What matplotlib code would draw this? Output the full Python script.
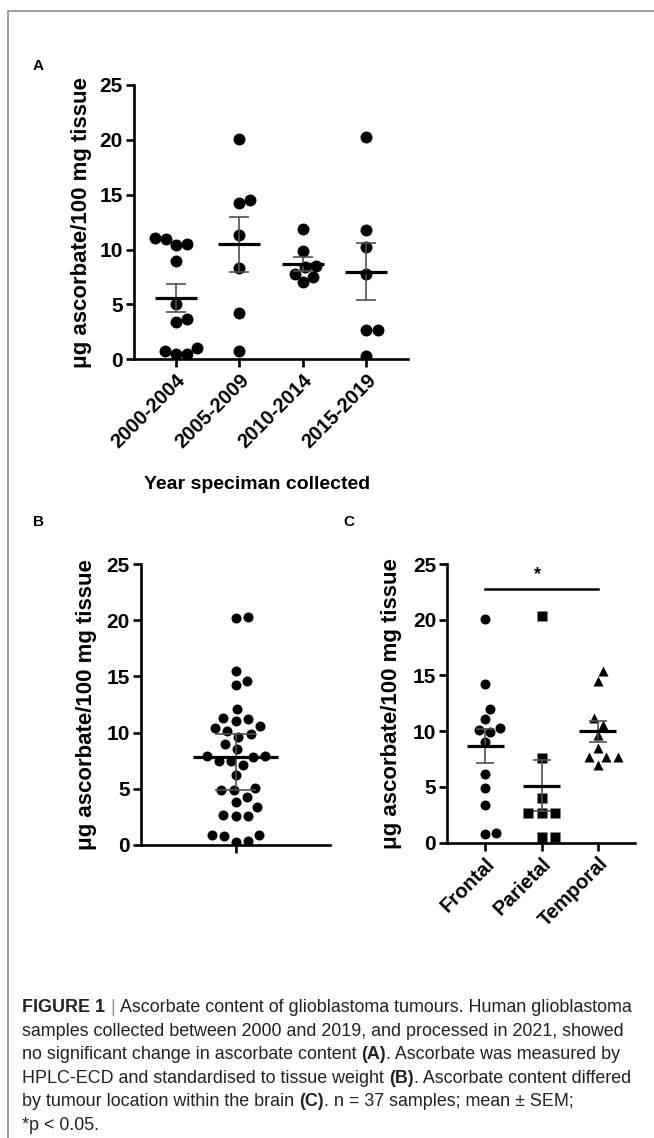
import numpy as np
import matplotlib
matplotlib.use("Agg")
from matplotlib import pyplot as plt
from matplotlib.lines import Line2D

plt.rcParams['font.family'] = ['Liberation Sans', 'DejaVu Sans']

# ---- panel A: ascorbate by year of collection ----
a_groups = ["2000-2004", "2005-2009", "2010-2014", "2015-2019"]
a_2000 = [10.5, 11.0, 10.4, 11.1, 9.0, 5.0, 3.4, 3.7, 0.5, 1.0, 0.5, 0.8]
a_2005 = [20.1, 14.2, 14.5, 11.3, 8.3, 4.2, 0.8]
a_2010 = [11.9, 9.9, 8.4, 8.5, 7.0, 7.5, 7.8]
a_2015 = [20.3, 11.8, 10.2, 7.8, 2.7, 2.7, 0.3]

# ---- panel B: all samples ----
b_all = [20.2, 20.3, 15.5, 14.2, 14.6, 12.1, 11.0, 10.6, 11.2, 11.3,
         10.4, 10.1, 9.6, 9.9, 9.0, 8.5, 7.5, 7.9, 7.9, 7.8, 7.5, 7.1,
         6.2, 5.1, 4.9, 4.9, 4.3, 3.8, 3.4, 2.7, 2.6, 2.6, 0.9, 0.8,
         0.9, 0.4, 0.3]
b_center = 7.8
b_err = [4.9, 9.9]

# ---- panel C: by tumour location ----
c_groups = ["Frontal", "Parietal", "Temporal"]
c_frontal = [20.1, 14.2, 12.0, 11.1, 10.1, 10.3, 9.9, 9.0, 6.2, 4.9, 3.4, 0.8, 0.9]
c_parietal = [20.3, 7.6, 4.0, 2.7, 2.7, 2.7, 0.5, 0.5]
c_temporal = [15.4, 14.5, 11.2, 10.6, 9.7, 8.5, 7.7, 7.0, 7.7, 7.7]
c_sig = 22.75

ylab = "μg ascorbate/100 mg tissue"

W, H = 654, 1138
fig = plt.figure(figsize=(W / 100, H / 100), dpi=100)


def rect(l, t, r, b):
    return [l / W, 1 - b / H, (r - l) / W, (b - t) / H]


def style(ax, xlim):
    ax.set_ylim(0, 25)
    ax.set_xlim(*xlim)
    ax.set_yticks([0, 5, 10, 15, 20, 25])
    for s in ['top', 'right']:
        ax.spines[s].set_visible(False)
    for s in ['left', 'bottom']:
        ax.spines[s].set_linewidth(1.9)
    ax.tick_params(width=1.9, length=6, labelsize=15, pad=2)
    for lab in ax.get_yticklabels():
        lab.set_fontweight('bold')


def swarm(ax, x0, vals, d):
    # simple beeswarm in pixel space, d = spacing between point centres in px
    pts = ax.transData.transform(np.column_stack([np.full(len(vals), x0), vals]))
    ys = pts[:, 1]
    dx = np.zeros(len(vals))
    placed = []
    for i in np.argsort(ys, kind='stable'):
        y = ys[i]
        cands = [0.0]
        for px, py in placed:
            dy = y - py
            if abs(dy) < d:
                h = np.sqrt(d ** 2 - dy ** 2)
                cands += [px + h, px - h]
        cands.sort(key=abs)
        for c in cands:
            if all((c - px) ** 2 + (y - py) ** 2 >= d ** 2 - 1e-6 for px, py in placed):
                dx[i] = c
                break
        placed.append((dx[i], y))
    inv = ax.transData.inverted()
    return inv.transform(np.column_stack([pts[:, 0] + dx, ys]))[:, 0]


def mean_sem(ax, x, vals, half, cap):
    m = np.mean(vals)
    sem = np.std(vals, ddof=1) / np.sqrt(len(vals))
    ax.errorbar(x, m, yerr=sem, fmt='none', ecolor='#505050', elinewidth=1.2,
                capsize=cap, capthick=1.2, zorder=4)
    ax.hlines(m, x - half, x + half, color='black', lw=2.3, zorder=5)


# ---- A ----
axA = fig.add_axes(rect(134, 85, 408, 359.3))
style(axA, (-0.66, 3.66))
for i, vals in enumerate([a_2000, a_2005, a_2010, a_2015]):
    xs = swarm(axA, i, vals, 11.5)
    axA.plot(xs, vals, 'o', color='black', ms=8.6, mec='none', zorder=3)
    mean_sem(axA, i, vals, 0.33, 7.5)
axA.set_xticks(range(len(a_groups)))
axA.set_xticklabels(a_groups, rotation=45, ha='right', rotation_mode='anchor',
                    fontsize=14.5, fontweight='bold')
axA.set_ylabel(ylab, fontsize=16, fontweight='bold')
axA.yaxis.set_label_coords(-0.153, 0.5)
axA.set_xlabel("Year speciman collected", fontsize=14, fontweight='bold')
axA.xaxis.set_label_coords(0.449, -0.425)

# ---- B ----
axB = fig.add_axes(rect(141, 564, 330, 845))
style(axB, (-1, 1))
xs = swarm(axB, 0, b_all, 12.5)
axB.plot(xs, b_all, 'o', color='black', ms=7.2, mec='none', zorder=3)
axB.vlines(0, b_err[0], b_err[1], color='#505050', lw=1.2, zorder=4)
axB.hlines(b_err, -0.22, 0.22, color='#505050', lw=1.2, zorder=4)
axB.hlines(b_center, -0.45, 0.45, color='black', lw=2.3, zorder=5)
axB.set_xticks([0])
axB.set_xticklabels([''])
axB.set_ylabel(ylab, fontsize=16, fontweight='bold')
axB.yaxis.set_label_coords(-0.233, 0.5)

# ---- C ----
axC = fig.add_axes(rect(447.3, 564, 635, 842.7))
style(axC, (-0.675, 2.66))
for i, (vals, mk, ms, sp) in enumerate([(c_frontal, 'o', 7.2, 11), (c_parietal, 's', 6.6, 13.5),
                                        (c_temporal, '^', 7.6, 11.5)]):
    xs = swarm(axC, i, vals, sp)
    axC.plot(xs, vals, mk, color='black', ms=ms, mec='none', zorder=3)
    mean_sem(axC, i, vals, 0.33, 6.5)
axC.set_xticks(range(len(c_groups)))
axC.set_xticklabels(c_groups, rotation=45, ha='right', rotation_mode='anchor',
                    fontsize=14.5, fontweight='bold')
axC.plot([0, 2], [c_sig, c_sig], color='black', lw=1.8, clip_on=False)
axC.text(0.93, c_sig + 0.5, '*', ha='center', va='bottom', fontsize=13, fontweight='bold')
axC.set_ylabel(ylab, fontsize=16, fontweight='bold')
axC.yaxis.set_label_coords(-0.241, 0.5)

# panel letters
for letter, x, y in [("A", 38, 66), ("B", 38, 522), ("C", 349, 522)]:
    fig.text(x / W, 1 - y / H, letter, ha='center', va='center', fontsize=11, fontweight='bold')

# frame lines
fig.add_artist(Line2D([7.5 / W, 1], [1 - 10.5 / H] * 2, color='#a0a0a0', lw=1.4))
fig.add_artist(Line2D([7.5 / W] * 2, [0, 1 - 10.5 / H], color='#a0a0a0', lw=1.4))

# caption
caption = [
    [("FIGURE 1", 'bold', 0), ("|", 'normal', 1), ("Ascorbate content of glioblastoma tumours. Human glioblastoma", 'normal', 1)],
    [("samples collected between 2000 and 2019, and processed in 2021, showed", 'normal', 0)],
    [("no significant change in ascorbate content", 'normal', 0), ("(A)", 'bold', 1), (". Ascorbate was measured by", 'normal', 0)],
    [("HPLC-ECD and standardised to tissue weight", 'normal', 0), ("(B)", 'bold', 1), (". Ascorbate content differed", 'normal', 0)],
    [("by tumour location within the brain", 'normal', 0), ("(C)", 'bold', 1), (". n = 37 samples; mean ± SEM;", 'normal', 0)],
    [("*p < 0.05.", 'normal', 0)],
]
cap_size = 12.9
bg = fig.add_axes([0, 0, 1, 1], zorder=-1)
bg.set_axis_off()
y0, dy = 1008, 23.4
for k, line in enumerate(caption):
    prev = None
    for txt, wt, sp in line:
        col = '#999999' if txt == '|' else '#222222'
        if prev is None:
            prev = bg.text(22 / W, 1 - (y0 + k * dy) / H, txt, fontsize=cap_size, fontweight=wt,
                           color=col, ha='left', va='center', transform=bg.transAxes)
        else:
            prev = bg.annotate(txt, xy=(1, 0.5), xycoords=prev, xytext=(sp * 3.6, 0),
                               textcoords='offset points', fontsize=cap_size, fontweight=wt,
                               color=col, ha='left', va='center')

fig.savefig("out.png", dpi=100)
